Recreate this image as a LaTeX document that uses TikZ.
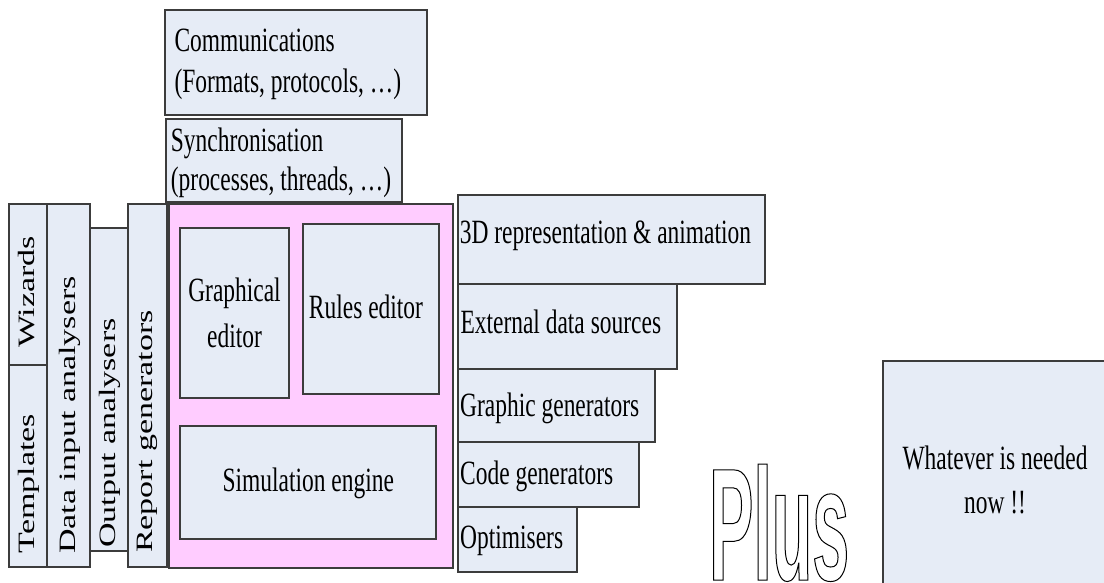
\documentclass[tikz,border=0pt]{standalone}
\usepackage{fontspec}
\usepackage{graphicx}
\setmainfont{Liberation Serif}[FakeStretch=0.69]
\newfontfamily\uprightserif{Liberation Serif}
\newfontfamily\plusfont{Liberation Sans}[FakeStretch=0.414]
\usetikzlibrary{fit}

\definecolor{panel}{RGB}{230,236,246}
\definecolor{corepink}{RGB}{255,204,255}
\definecolor{edge}{RGB}{60,60,60}

% two stacked lines whose reference point is the first baseline
\newcommand\leftpair[2]{\vtop{\hbox{#1}\hbox{#2}}}
\newcommand\centrepair[2]{\vtop{\halign{\hfil##\hfil\cr#1\cr#2\cr}}}
% upright text turned to read from bottom to top
\newcommand\uptext[1]{\rotatebox{90}{\scalebox{1}[0.69]{\uprightserif #1}}}

\tikzset{
  panelbox/.style={draw=edge, fill=panel, line width=1.2pt, inner sep=0pt, rectangle},
  corebox/.style={panelbox, fill=corepink},
  lbl/.style={inner sep=0pt, font=\fontsize{34}{40.6}\selectfont},
  vlbl/.style={inner sep=0pt, anchor=south, font=\fontsize{34}{40.6}\selectfont},
}

\begin{document}
\begin{tikzpicture}[x=1pt, y=-1pt]
\useasboundingbox (0,0) rectangle (1104,583);
\clip (0,0) rectangle (1104,583);

% infrastructure layers on top
\node[panelbox, fit={(165,10) (427,115)}] (comm) {};
\node[panelbox, fit={(166,119) (402,202)}] (sync) {};
\node[lbl, anchor=base west] (commtxt) at (174.3,51.7)
  {\leftpair{Communications}{(Formats, protocols, \ldots)}};
\node[lbl, anchor=base west] (synctxt) at (170.7,151.7)
  {\baselineskip=39.3pt\leftpair{Synchronisation}{(processes, threads, \ldots)}};

% tools on the left
\node[panelbox, fit={(9,204) (47,365)}] (wiz) {};
\node[panelbox, fit={(9,365) (47,567)}] (tpl) {};
\node[panelbox, fit={(47,204) (90,567)}] (datain) {};
\node[panelbox, fit={(90,228) (128,551)}] (outan) {};
\node[panelbox, fit={(128,204) (167,567)}] (report) {};
\node[vlbl] (wiztxt) at (26.3,348) {\uptext{Wizards}};
\node[vlbl] (tpltxt) at (28.9,553.3) {\uptext{Templates}};
\node[vlbl] (datintxt) at (69.5,554) {\uptext{Data input analysers}};
\node[vlbl] (outantxt) at (109.5,548) {\uptext{Output analysers}};
\node[vlbl] (reporttxt) at (147.8,553) {\uptext{Report generators}};

% the core
\node[corebox, fit={(169,204) (453,568)}] (core) {};
\node[panelbox, fit={(180,228) (289,398)}] (graph) {};
\node[panelbox, fit={(303,224) (439,394)}] (rules) {};
\node[panelbox, fit={(180,426) (436,539)}] (sim) {};
\node[lbl, anchor=base] (graphtxt) at (234.5,301.7)
  {\baselineskip=45.5pt\centrepair{Graphical}{editor}};
\node[lbl, anchor=base] (rulestxt) at (366,318.5) {Rules editor};
\node[lbl, anchor=base] (simtxt) at (308.3,491) {Simulation engine};

% tools on the right
\node[panelbox, fit={(458,195) (765,284)}] (anim) {};
\node[panelbox, fit={(458,284) (677,369)}] (ext) {};
\node[panelbox, fit={(458,369) (655,442)}] (gfx) {};
\node[panelbox, fit={(458,442) (639,507)}] (code) {};
\node[panelbox, fit={(458,507) (577,572)}] (opt) {};
\node[lbl, anchor=base west] (animtxt) at (459.7,243.3) {3D representation \& animation};
\node[lbl, anchor=base west] (exttxt) at (460.3,333) {External data sources};
\node[lbl, anchor=base west] (gfxtxt) at (460,416.7) {Graphic generators};
\node[lbl, anchor=base west] (codetxt) at (460,484) {Code generators};
\node[lbl, anchor=base west] (opttxt) at (460,548.3) {Optimisers};

% anything else
\node[panelbox, fit={(883,361) (1110,595)}] (need) {};
\node[lbl, anchor=base] (needtxt) at (995,469)
  {\baselineskip=44pt\centrepair{Whatever is needed}{now !!}};

% outlined lettering
\node[inner sep=0pt, anchor=base west] (plus) at (709,580)
  {\plusfont\bfseries\fontsize{160}{160}\selectfont
   \special{pdf:literal direct 1 Tr 1 w}Plus\special{pdf:literal direct 0 Tr}};
\end{tikzpicture}
\end{document}
